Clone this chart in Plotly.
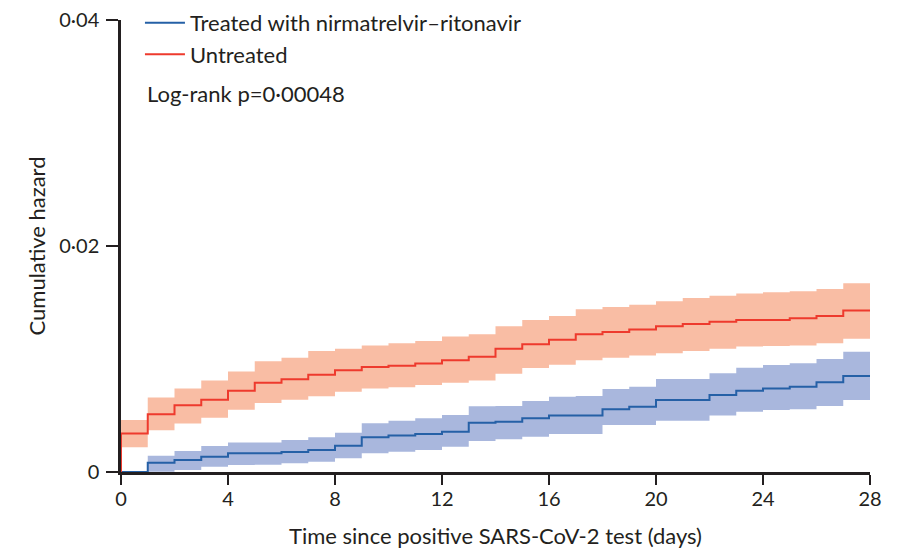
import plotly.graph_objects as go

days = list(range(0, 29))

# Untreated (red): step values starting at each day 0..27 (held to day 28)
untreated = [0.0034, 0.0051, 0.0059, 0.0064, 0.0072, 0.0079, 0.0082, 0.0086, 0.0090, 0.0093,
             0.0094, 0.0096, 0.0099, 0.0102, 0.0109, 0.0113, 0.0117, 0.0122, 0.0124, 0.0126,
             0.0129, 0.0131, 0.0133, 0.01345, 0.01345, 0.0136, 0.0138, 0.0143]
untreated_upper = [0.0046, 0.0066, 0.0074, 0.0081, 0.0089, 0.0098, 0.0101, 0.0107, 0.0109, 0.0112,
                   0.0114, 0.0116, 0.0120, 0.0122, 0.0129, 0.01345, 0.0138, 0.0144, 0.0146, 0.0148,
                   0.0151, 0.0154, 0.0156, 0.0158, 0.0159, 0.0160, 0.0162, 0.0167]
untreated_lower = [0.0022, 0.0037, 0.0043, 0.0048, 0.0055, 0.0061, 0.0064, 0.0067, 0.0071, 0.0074,
                   0.0075, 0.0077, 0.0079, 0.0081, 0.0087, 0.0092, 0.0095, 0.0099, 0.0101, 0.0103,
                   0.0105, 0.0107, 0.0109, 0.0111, 0.01115, 0.0112, 0.0114, 0.0118]

# Treated (blue)
treated = [0.0, 0.00082, 0.00106, 0.00136, 0.00165, 0.00165, 0.00177, 0.00195, 0.00233, 0.00307,
           0.00324, 0.00336, 0.00357, 0.00436, 0.00445, 0.00475, 0.00499, 0.00499, 0.00555, 0.00578,
           0.00637, 0.00637, 0.00681, 0.00720, 0.0074, 0.00755, 0.00794, 0.0085]
treated_upper = [0.0, 0.00144, 0.00186, 0.0023, 0.0026, 0.0026, 0.00283, 0.00307, 0.00348, 0.00431,
                 0.00454, 0.00475, 0.00504, 0.00581, 0.00584, 0.00628, 0.00667, 0.00673, 0.00735, 0.00755,
                 0.00823, 0.00823, 0.00873, 0.00923, 0.00947, 0.00962, 0.0100, 0.01065]
treated_lower = [0.0, 0.00003, 0.00018, 0.00047, 0.00062, 0.00065, 0.00077, 0.00091, 0.00121, 0.00165,
                 0.0018, 0.00195, 0.00224, 0.00274, 0.00289, 0.00313, 0.00336, 0.00336, 0.00416, 0.00416,
                 0.00454, 0.00454, 0.00499, 0.00534, 0.00549, 0.00555, 0.00584, 0.00637]

x_ticks = [0, 4, 8, 12, 16, 20, 24, 28]
y_ticks = [0, 0.02, 0.04]
y_ticktext = ["0", "0·02", "0·04"]

RED = "#ee3a2d"
RED_BAND = "rgba(248,178,148,0.85)"
BLUE = "#2560a6"
BLUE_BAND = "rgba(148,165,212,0.8)"
TXT = "#231f20"
FONT = "Lato, sans-serif"


def held(vals):
    # extend the last step to day 28
    return vals + [vals[-1]]


fig = go.Figure()

# Untreated band
fig.add_trace(go.Scatter(x=days, y=held(untreated_lower), mode="lines", line=dict(width=0, shape="hv"),
                         showlegend=False, hoverinfo="skip"))
fig.add_trace(go.Scatter(x=days, y=held(untreated_upper), mode="lines", line=dict(width=0, shape="hv"),
                         fill="tonexty", fillcolor=RED_BAND, showlegend=False, hoverinfo="skip"))
# Treated band (from day 1)
fig.add_trace(go.Scatter(x=days[1:], y=held(treated_lower)[1:], mode="lines", line=dict(width=0, shape="hv"),
                         showlegend=False, hoverinfo="skip"))
fig.add_trace(go.Scatter(x=days[1:], y=held(treated_upper)[1:], mode="lines", line=dict(width=0, shape="hv"),
                         fill="tonexty", fillcolor=BLUE_BAND, showlegend=False, hoverinfo="skip"))

# Lines
fig.add_trace(go.Scatter(x=days, y=held(treated), mode="lines", line=dict(color=BLUE, width=2, shape="hv"),
                         name="Treated with nirmatrelvir–ritonavir"))
fig.add_trace(go.Scatter(x=[0] + days, y=[0] + held(untreated), mode="lines",
                         line=dict(color=RED, width=2, shape="hv"),
                         name="Untreated"))

fig.add_annotation(x=0.032, y=0.0335, xref="paper", yref="y", text="Log-rank p=0·00048", showarrow=False,
                   xanchor="left", yanchor="middle", font=dict(size=22, color=TXT, family=FONT))

fig.update_layout(
    width=907, height=549,
    margin=dict(l=113, r=45, t=12, b=85, autoexpand=False),
    paper_bgcolor="white", plot_bgcolor="white",
    font=dict(family=FONT, size=20, color=TXT),
    showlegend=True,
    legend=dict(x=0.0253, y=1.04, xanchor="left", yanchor="top", itemwidth=40,
                bgcolor="rgba(0,0,0,0)", traceorder="normal",
                font=dict(size=22, color=TXT, family=FONT)),
)
fig.update_xaxes(range=[0, 28], tickvals=x_ticks, ticks="outside", ticklen=10, tickwidth=2, tickcolor="#231f20",
                 showline=True, linecolor="#231f20", linewidth=2.5, showgrid=False, zeroline=False,
                 ticklabelstandoff=-3, ticklabeloverflow="allow",
                 title=dict(text="Time since positive SARS-CoV-2 test (days)", standoff=20, font=dict(size=22)),
                 tickfont=dict(size=20))
fig.update_yaxes(range=[0, 0.04], tickvals=y_ticks, ticktext=y_ticktext, ticks="outside", ticklen=12, tickwidth=2,
                 tickcolor="#231f20", showline=True, linecolor="#231f20", linewidth=2.5, showgrid=False,
                 zeroline=False, ticklabelstandoff=3, ticklabeloverflow="allow",
                 title=dict(text="Cumulative hazard", standoff=8, font=dict(size=22)),
                 tickfont=dict(size=20))

fig.write_html("out.html")
